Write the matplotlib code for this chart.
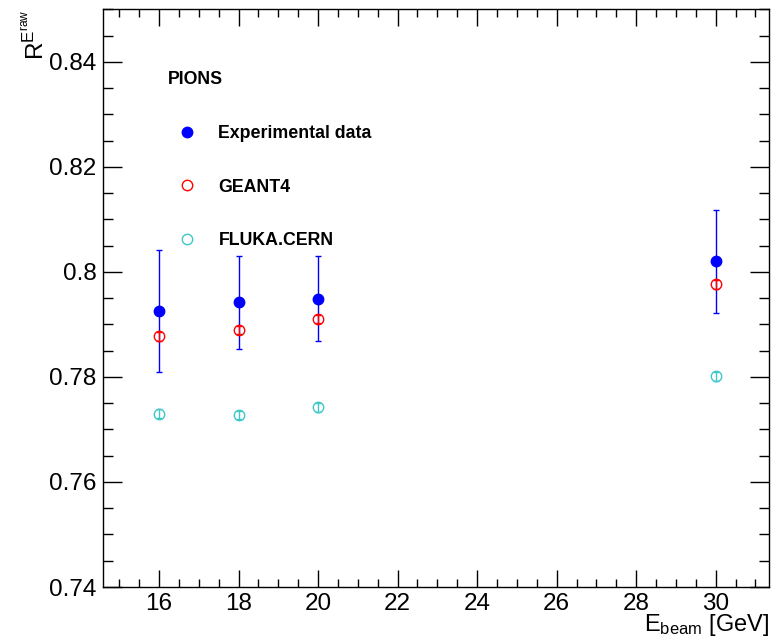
import numpy as np
import matplotlib
matplotlib.use("Agg")
import matplotlib.pyplot as plt
from matplotlib.ticker import MultipleLocator
from matplotlib.lines import Line2D

plt.rcParams['font.family'] = ['Liberation Sans', 'DejaVu Sans']
plt.rcParams['mathtext.fontset'] = 'custom'
plt.rcParams['mathtext.rm'] = 'Liberation Sans'
plt.rcParams['mathtext.it'] = 'Liberation Sans:italic'

# beam energies [GeV]
energy = [16, 18, 20, 30]

# experimental data
exp_val = [0.7925, 0.7942, 0.7949, 0.8020]
exp_err = [0.0116, 0.0088, 0.0081, 0.0098]

# GEANT4
g4_val = [0.7877, 0.7889, 0.7910, 0.7976]
g4_err = [0.0008, 0.0008, 0.0008, 0.0008]

# FLUKA.CERN
fl_val = [0.7730, 0.7727, 0.7742, 0.7801]
fl_err = [0.0008, 0.0008, 0.0008, 0.0008]

blue = '#0000ff'
red = '#ff0000'
cyan = '#3fc8c8'

fig = plt.figure(figsize=(7.74, 6.4), dpi=100)
ax = fig.add_axes([0.1335, 0.0828, 0.8605, 0.9027])

ax.errorbar(energy, exp_val, yerr=exp_err, fmt='o', color=blue, ms=7.5,
            elinewidth=1.0, capsize=2.5, capthick=1.0)
ax.errorbar(energy, g4_val, yerr=g4_err, fmt='o', mfc='none', mec=red, color=red,
            ms=7.5, mew=1.0, elinewidth=1.0, capsize=2.5, capthick=1.0)
ax.errorbar(energy, fl_val, yerr=fl_err, fmt='o', mfc='none', mec=cyan, color=cyan,
            ms=7.5, mew=1.0, elinewidth=1.0, capsize=2.5, capthick=1.0)

ax.set_xlim(14.6, 31.35)
ax.set_ylim(0.74, 0.85)
ax.xaxis.set_major_locator(MultipleLocator(2))
ax.xaxis.set_minor_locator(MultipleLocator(0.5))
ax.yaxis.set_major_locator(MultipleLocator(0.02))
ax.yaxis.set_minor_locator(MultipleLocator(0.005))
ax.set_yticks([0.74, 0.76, 0.78, 0.80, 0.82, 0.84])
ax.set_yticklabels(['0.74', '0.76', '0.78', '0.8', '0.82', '0.84'])

ax.tick_params(which='both', direction='in', top=True, right=True,
               labelsize=17.5, width=1.0)
ax.tick_params(axis='x', which='major', length=12, pad=4)
ax.tick_params(axis='x', which='minor', length=6)
ax.tick_params(axis='y', which='major', length=14, pad=5)
ax.tick_params(axis='y', which='minor', length=7)
for s in ax.spines.values():
    s.set_linewidth(1.0)

ax.set_xlabel(r'$\mathregular{E_{beam}}$ [GeV]', fontsize=17, loc='right', labelpad=-1.5)
ax.set_ylabel(r'$\mathregular{R^{E^{raw}}}$', fontsize=17.5, loc='top', labelpad=0)

ax.text(0.097, 0.878, 'PIONS', transform=ax.transAxes, fontsize=12.8,
        fontweight='bold', va='center', ha='left')

handles = [
    Line2D([], [], ls='none', marker='o', color=blue, ms=7.5),
    Line2D([], [], ls='none', marker='o', mfc='none', mec=red, ms=7.5),
    Line2D([], [], ls='none', marker='o', mfc='none', mec=cyan, ms=7.5),
]
labels = ['Experimental data', 'GEANT4', 'FLUKA.CERN']
leg = ax.legend(handles, labels, loc='upper left', bbox_to_anchor=(0.1127, 0.799),
                frameon=False, borderpad=0, borderaxespad=0, handlelength=1.0,
                handletextpad=1.25, labelspacing=2.04,
                prop={'size': 12.8, 'weight': 'bold'})

fig.savefig('out.png', dpi=100)
